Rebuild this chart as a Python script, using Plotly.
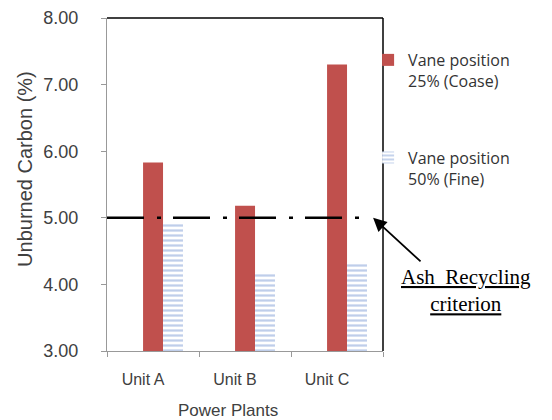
import plotly.graph_objects as go

units = ["Unit A", "Unit B", "Unit C"]
coarse = [5.83, 5.18, 7.30]
fine = [4.92, 4.17, 4.33]
criterion = 5.0
y_ticks = [3, 4, 5, 6, 7, 8]
y_tick_labels = ["3.00", "4.00", "5.00", "6.00", "7.00", "8.00"]

BAR_W = 0.217
SHIFT = 0.109

fig = go.Figure()
fig.add_trace(go.Bar(
    x=units, y=coarse, name="Vane position<br>25% (Coase)",
    width=BAR_W, offset=SHIFT - BAR_W,
    marker=dict(color="#c0504d", line=dict(width=0)),
    legendgroup="a",
))
fig.add_trace(go.Bar(
    x=units, y=fine, name="Vane position<br>50% (Fine)",
    width=BAR_W, offset=SHIFT,
    marker=dict(color="white", line=dict(width=0),
                pattern=dict(shape="-", fgcolor="#7f9dd6", bgcolor="white",
                             size=5, solidity=0.45)),
    legendgroup="b",
))

# criterion line
fig.add_shape(type="line", xref="x domain", yref="y", x0=0, x1=0.945,
              y0=criterion, y1=criterion,
              line=dict(color="black", width=2.5, dash="37px,13px,4px,12px"))
# frame top and right
fig.add_shape(type="line", xref="x domain", yref="y domain", x0=0, x1=1, y0=1, y1=1,
              line=dict(color="black", width=1.5))
fig.add_shape(type="line", xref="x domain", yref="y domain", x0=1, x1=1, y0=0, y1=1,
              line=dict(color="black", width=1.5))

fig.add_annotation(
    xref="x domain", yref="y", x=0.964, y=criterion,
    text="", showarrow=True, axref="pixel", ayref="pixel",
    ax=49, ay=45, arrowhead=2, arrowsize=1.5, arrowwidth=1.8, arrowcolor="black",
)
fig.add_annotation(
    xref="paper", yref="paper", x=1.3, y=0.181, showarrow=False,
    text="<u>Ash  Recycling</u><br><u>criterion</u>",
    font=dict(family="Liberation Serif", size=21, color="black"),
    align="center", xanchor="center", yanchor="middle",
)
# y-axis title
fig.add_annotation(
    xref="paper", yref="paper", x=-0.297, y=0.547, showarrow=False,
    text="Unburned Carbon (%)", textangle=-90,
    font=dict(family="Liberation Sans", size=20, color="#404040"),
    xanchor="center", yanchor="middle",
)
# x-axis title
fig.add_annotation(
    xref="paper", yref="paper", x=0.44, y=-0.18, showarrow=False,
    text="Power Plants",
    font=dict(family="Liberation Sans", size=17, color="#404040"),
    xanchor="center", yanchor="middle",
)

fig.update_layout(
    width=544, height=412,
    margin=dict(l=99, r=169, t=10, b=69),
    paper_bgcolor="white", plot_bgcolor="white",
    barmode="overlay",
    font=dict(family="Liberation Sans", color="#404040"),
    showlegend=True,
    legend=dict(x=0.946, y=0.925, xanchor="left", yanchor="top", valign="top",
                font=dict(family="Open Sans", size=16, color="#333333"),
                tracegroupgap=53, itemwidth=30, bgcolor="rgba(0,0,0,0)"),
    xaxis=dict(showline=True, linecolor="#999999", linewidth=1,
               ticks="outside", ticklen=5, tickcolor="#999999",
               tickson="boundaries", automargin=False,
               ticklabelshift=-10, ticklabelstandoff=14,
               tickfont=dict(family="Liberation Sans", size=16, color="#404040")),
    yaxis=dict(range=[3, 8], tickvals=y_ticks, ticktext=y_tick_labels,
               showline=True, linecolor="#999999", linewidth=1,
               ticks="outside", ticklen=5, tickcolor="#999999",
               showgrid=False, zeroline=False, automargin=False,
               ticklabelstandoff=19,
               tickfont=dict(family="Liberation Sans", size=18, color="#404040")),
)

fig.write_html("out.html")
